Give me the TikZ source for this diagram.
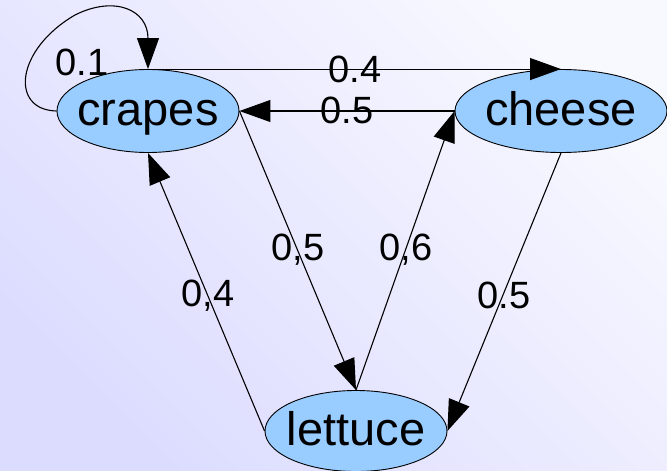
\documentclass[tikz,border=0pt]{standalone}
\usepackage{fontspec}
\setmainfont{Liberation Sans}
\usetikzlibrary{shapes.geometric,arrows.meta}
\definecolor{bgBL}{HTML}{DCDCFF}
\definecolor{bgTR}{HTML}{F8F8FF}
\definecolor{nodefill}{HTML}{99CCFF}
\tikzset{
  state/.style={ellipse, draw=black, line width=0.9pt, fill=nodefill, inner ysep=0pt, inner xsep=-30pt,
    minimum width=182pt, minimum height=83pt, text height=38pt, text depth=9pt,
    font=\fontsize{47}{47}\selectfont},
  edge/.style={draw=black, line width=1.1pt, -{Triangle[length=31pt,width=22pt]}},
  lab/.style={font=\fontsize{38}{38}\selectfont, inner sep=0pt}
}
\begin{document}
\begin{tikzpicture}[x=1pt,y=-1pt]
\shade[bottom color=bgBL, top color=bgTR, shading angle=-45] (0,0) rectangle (667,471);
\useasboundingbox (0,0) rectangle (667,471);
\node[state] (cr) at (148,111) {crapes};
\node[state, minimum width=212pt] (ch) at (561,111) {cheese};
\node[state, minimum height=81pt] (le) at (356,431) {lettuce};
\draw[edge] (cr.west) .. controls (10,110) and (15,50) .. (75,15) .. controls (115,-5) and (148,10) .. (cr.north);
\draw[edge] (cr.north) -- (ch.north);
\draw[edge] (ch.west) -- (cr.east);
\draw[edge] (cr.east) -- (le.north);
\draw[edge] (le.north) -- (ch.west);
\draw[edge] (le.west) -- (cr.south);
\draw[edge] (ch.south) -- (le.east);
\node[lab] (l1) at (82,62) {0.1};
\node[lab] (l2) at (355,69) {0.4};
\node[lab] (l3) at (347,110) {0.5};
\node[lab] (l4) at (298,250) {0,5};
\node[lab] (l5) at (406,250) {0,6};
\node[lab] (l6) at (208,296) {0,4};
\node[lab] (l7) at (504,295) {0.5};
\end{tikzpicture}
\end{document}
